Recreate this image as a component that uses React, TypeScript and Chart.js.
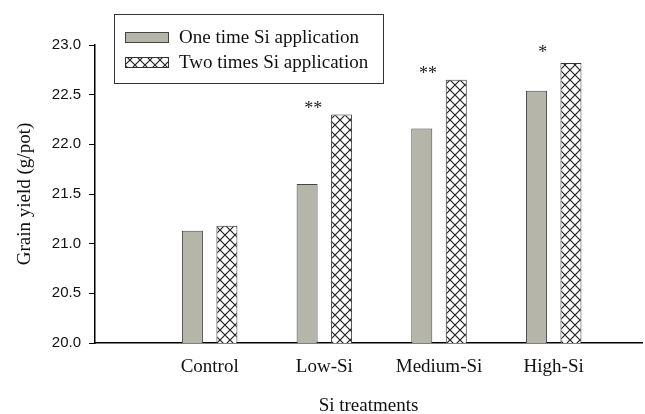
import React, { useEffect, useRef } from "react";
import { Chart, registerables } from "chart.js";

Chart.register(...registerables);

const categories = ["Control", "Low-Si", "Medium-Si", "High-Si"];
const oneTime = [21.13, 21.6, 22.16, 22.54];
const twoTimes = [21.18, 22.3, 22.65, 22.82];
const significance = ["", "**", "**", "*"];
const seriesLabels = ["One time Si application", "Two times Si application"];
const yTicks = [20.0, 20.5, 21.0, 21.5, 22.0, 22.5, 23.0];

const SERIF = "'Liberation Serif', 'Times New Roman', serif";
const SANS = "'Liberation Sans', Arial, sans-serif";

function makeHatch(): CanvasPattern | string {
  const c = document.createElement("canvas");
  c.width = 10;
  c.height = 10;
  const g = c.getContext("2d");
  if (!g) return "#fff";
  g.fillStyle = "#ffffff";
  g.fillRect(0, 0, 10, 10);
  g.strokeStyle = "#222222";
  g.lineWidth = 1.2;
  g.beginPath();
  g.moveTo(-1, -1);
  g.lineTo(11, 11);
  g.moveTo(11, -1);
  g.lineTo(-1, 11);
  g.stroke();
  const p = g.createPattern(c, "repeat");
  return p || "#fff";
}

const starsPlugin = {
  id: "stars",
  afterDatasetsDraw(chart: any) {
    const { ctx, scales } = chart;
    const xs = scales.x;
    const ys = scales.y;
    ctx.save();
    ctx.font = `18px ${SERIF}`;
    ctx.fillStyle = "#222";
    ctx.textAlign = "center";
    ctx.textBaseline = "alphabetic";
    significance.forEach((s, i) => {
      if (!s) return;
      const x = xs.getPixelForValue(i + 1) - 11;
      const y = ys.getPixelForValue(Math.max(oneTime[i], twoTimes[i])) - (s.length === 1 ? 5 : 1);
      ctx.fillText(s, x, y);
    });
    ctx.restore();
  },
};

const boxLegendPlugin = {
  id: "boxLegend",
  afterDraw(chart: any) {
    const { ctx, chartArea } = chart;
    const left = chartArea.left + 19;
    const top = 14;
    ctx.save();
    ctx.strokeStyle = "#333";
    ctx.lineWidth = 1;
    ctx.strokeRect(left + 0.5, top + 0.5, 269, 69);
    chart.data.datasets.forEach((ds: any, i: number) => {
      const sx = left + 11;
      const sy = top + 18 + i * 25;
      ctx.fillStyle = ds.backgroundColor;
      ctx.fillRect(sx, sy, 44, 11);
      ctx.strokeStyle = ds.borderColor;
      ctx.strokeRect(sx + 0.5, sy + 0.5, 43, 10);
      ctx.fillStyle = "#111";
      ctx.font = `19px ${SERIF}`;
      ctx.textAlign = "left";
      ctx.textBaseline = "alphabetic";
      ctx.fillText(ds.label, sx + 54, sy + 11);
    });
    ctx.restore();
  },
};

export default function App() {
  const ref = useRef<HTMLCanvasElement | null>(null);

  useEffect(() => {
    document.body.style.margin = "0";
    const canvas = ref.current;
    if (!canvas) return;
    const hatch = makeHatch();
    const chart = new Chart(canvas, {
      type: "bar",
      data: {
        datasets: [
          {
            label: seriesLabels[0],
            data: oneTime.map((v, i) => ({ x: i + 1, y: v })),
            backgroundColor: "#b5b5a9",
            borderColor: "#444",
            borderWidth: 1,
            borderSkipped: false,
            categoryPercentage: 0.6016,
            barPercentage: 0.609,
          },
          {
            label: seriesLabels[1],
            data: twoTimes.map((v, i) => ({ x: i + 1, y: v })),
            backgroundColor: hatch as any,
            borderColor: "#333",
            borderWidth: 1,
            borderSkipped: false,
            categoryPercentage: 0.6016,
            barPercentage: 0.609,
          },
        ],
      },
      options: {
        responsive: false,
        animation: false,
        layout: { padding: { left: 0, top: 45, right: 3, bottom: 0 } },
        plugins: {
          legend: { display: false },
          tooltip: { enabled: false },
        },
        scales: {
          x: {
            type: "linear",
            min: 0,
            max: 4.77,
            offset: false,
            grid: { display: false, drawTicks: false },
            border: { display: true, color: "#000", width: 1.5 },
            afterBuildTicks: (scale: any) => {
              scale.ticks = categories.map((_, i) => ({ value: i + 1 }));
            },
            afterFit: (scale: any) => {
              scale.height = 71;
            },
            ticks: {
              autoSkip: false,
              maxRotation: 0,
              padding: 13,
              color: "#111",
              font: { family: SERIF, size: 19 },
              callback: (v: any) => categories[Number(v) - 1] ?? "",
            },
            title: {
              display: true,
              text: "Si treatments",
              color: "#111",
              font: { family: SERIF, size: 19 },
              padding: { top: 0, bottom: -3 },
            },
          },
          y: {
            min: 20,
            max: 23,
            grid: {
              display: true,
              drawOnChartArea: false,
              drawTicks: true,
              tickLength: 6,
              color: "#000",
            },
            border: { display: true, color: "#000", width: 1.5 },
            afterBuildTicks: (scale: any) => {
              scale.ticks = yTicks.map((v) => ({ value: v }));
            },
            afterFit: (scale: any) => {
              scale.width = 95;
            },
            ticks: {
              padding: 8,
              color: "#111",
              font: { family: SANS, size: 15 },
              callback: (v: any) => Number(v).toFixed(1),
            },
            title: {
              display: true,
              text: "Grain yield (g/pot)",
              color: "#111",
              font: { family: SERIF, size: 19 },
              padding: { top: 14, bottom: 0 },
            },
          },
        },
      },
      plugins: [starsPlugin, boxLegendPlugin],
    });
    return () => chart.destroy();
  }, []);

  return (
    <div style={{ position: "absolute", left: 0, top: 0, width: 645, height: 414 }}>
      <canvas ref={ref} width={645} height={414} style={{ display: "block" }} />
    </div>
  );
}
